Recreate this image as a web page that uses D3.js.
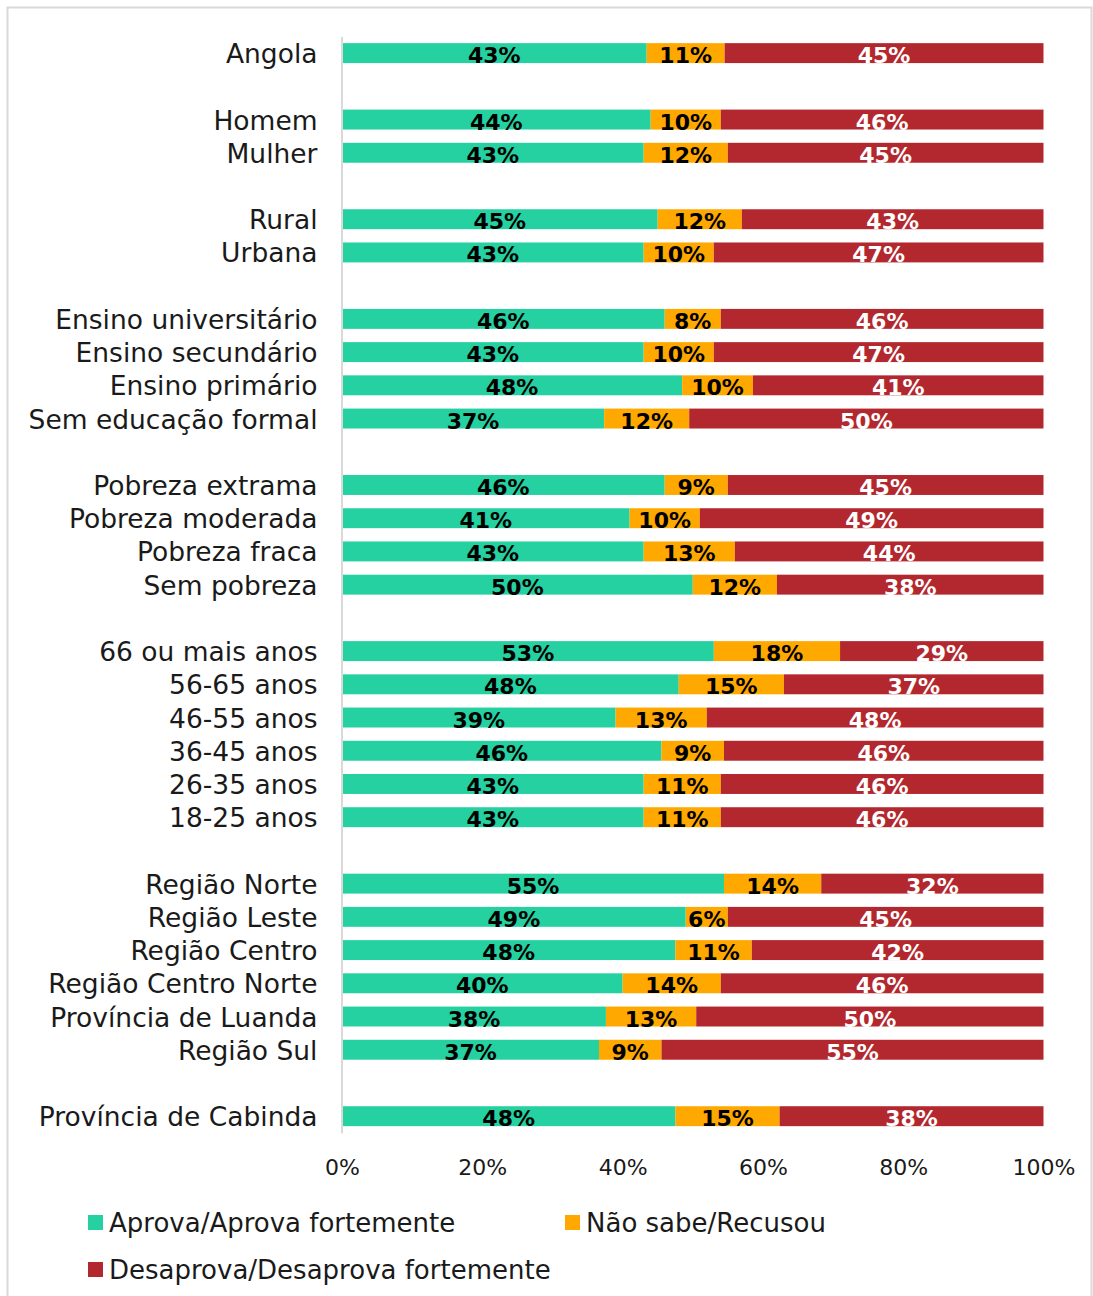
<!DOCTYPE html>
<html>
<head>
<meta charset="utf-8">
<script src="https://cdn.jsdelivr.net/npm/d3@7"></script>
<style>
  html, body { margin: 0; padding: 0; background: #fff; }
  svg { display: block; }
  text { font-family: "DejaVu Sans", sans-serif; }
</style>
</head>
<body>
<svg id="chart" width="1093" height="1296"></svg>
<script>
// Row labels; "" marks a blank spacer row between groups
const categories = [
  "Angola", "",
  "Homem", "Mulher", "",
  "Rural", "Urbana", "",
  "Ensino universitário", "Ensino secundário", "Ensino primário", "Sem educação formal", "",
  "Pobreza extrama", "Pobreza moderada", "Pobreza fraca", "Sem pobreza", "",
  "66 ou mais anos", "56-65 anos", "46-55 anos", "36-45 anos", "26-35 anos", "18-25 anos", "",
  "Região Norte", "Região Leste", "Região Centro", "Região Centro Norte", "Província de Luanda", "Região Sul", "",
  "Província de Cabinda"
];

// Percentages per row (null on spacer rows)
const aprova = [
  43, null,
  44, 43, null,
  45, 43, null,
  46, 43, 48, 37, null,
  46, 41, 43, 50, null,
  53, 48, 39, 46, 43, 43, null,
  55, 49, 48, 40, 38, 37, null,
  48
];
const naoSabe = [
  11, null,
  10, 12, null,
  12, 10, null,
  8, 10, 10, 12, null,
  9, 10, 13, 12, null,
  18, 15, 13, 9, 11, 11, null,
  14, 6, 11, 14, 13, 9, null,
  15
];
const desaprova = [
  45, null,
  46, 45, null,
  43, 47, null,
  46, 47, 41, 50, null,
  45, 49, 44, 38, null,
  29, 37, 48, 46, 46, 46, null,
  32, 45, 42, 46, 50, 55, null,
  38
];

const seriesNames = ["Aprova/Aprova fortemente", "Não sabe/Recusou", "Desaprova/Desaprova fortemente"];
const seriesKeys = ["aprova", "naoSabe", "desaprova"];
const xTicks = [0, 0.2, 0.4, 0.6, 0.8, 1];

const colors = { aprova: "#25d1a1", naoSabe: "#ffa900", desaprova: "#b3282e" };
const labelColors = { aprova: "#000", naoSabe: "#000", desaprova: "#fff" };

const svg = d3.select("#chart");

// outer frame
svg.append("rect")
  .attr("x", 7.5).attr("y", 7.5)
  .attr("width", 1084).attr("height", 1300)
  .attr("fill", "none").attr("stroke", "#d9d9d9").attr("stroke-width", 2);

const rows = categories.map((c, i) => ({
  idx: i, label: c,
  aprova: aprova[i], naoSabe: naoSabe[i], desaprova: desaprova[i]
}));
const dataRows = rows.filter(r => r.label !== "");

const x = d3.scaleLinear().domain([0, 1]).range([342, 1043.5]);
const y = d3.scaleBand()
  .domain(d3.range(categories.length))
  .range([36.5, 1132.8])
  .paddingInner(0.4)
  .paddingOuter(0.2);

// each bar is normalised to 100%
const stack = d3.stack().keys(seriesKeys).offset(d3.stackOffsetExpand);
const stacked = stack(dataRows);

const layers = svg.append("g").selectAll("g")
  .data(stacked)
  .join("g")
  .attr("fill", d => colors[d.key]);

layers.selectAll("rect")
  .data(d => d.map(p => ({ p, key: d.key })))
  .join("rect")
  .attr("x", d => x(d.p[0]))
  .attr("width", d => x(d.p[1]) - x(d.p[0]))
  .attr("y", d => y(d.p.data.idx))
  .attr("height", y.bandwidth());

// value labels
const labelG = svg.append("g");
stacked.forEach(layer => {
  labelG.selectAll(null)
    .data(layer)
    .join("text")
    .attr("x", p => (x(p[0]) + x(p[1])) / 2)
    .attr("y", p => y(p.data.idx) + y.bandwidth() / 2 + 10)
    .attr("text-anchor", "middle")
    .attr("font-size", 22)
    .attr("font-weight", "bold")
    .attr("fill", labelColors[layer.key])
    .text(p => p.data[layer.key] + "%");
});

// category axis
const yAxis = svg.append("g")
  .attr("transform", "translate(341.5,0)")
  .call(d3.axisLeft(y).tickSize(0).tickPadding(24).tickFormat(i => categories[i]));
yAxis.select(".domain").attr("stroke", "#d9d9d9").attr("stroke-width", 2);
yAxis.selectAll("text")
  .attr("font-size", 26.5)
  .attr("font-family", "DejaVu Sans, sans-serif")
  .attr("fill", "#1a1a1a")
  .attr("dy", null)
  .attr("y", 10);

// percentage axis
const xAxis = svg.append("g")
  .attr("transform", "translate(0,1133)")
  .call(d3.axisBottom(x).tickValues(xTicks).tickSize(0).tickFormat(d3.format(".0%")));
xAxis.select(".domain").remove();
xAxis.selectAll("text")
  .attr("font-size", 22)
  .attr("font-family", "DejaVu Sans, sans-serif")
  .attr("fill", "#1a1a1a")
  .attr("dy", null)
  .attr("y", 42);

// legend
const legendPos = [
  { x: 88, y: 1215 },
  { x: 565, y: 1215 },
  { x: 88, y: 1262 }
];
const legend = svg.append("g").selectAll("g")
  .data(seriesKeys)
  .join("g")
  .attr("transform", (k, i) => `translate(${legendPos[i].x},${legendPos[i].y})`);
legend.append("rect")
  .attr("width", 15).attr("height", 15)
  .attr("fill", k => colors[k]);
legend.append("text")
  .attr("x", 21).attr("y", 17)
  .attr("font-size", 26)
  .attr("fill", "#1a1a1a")
  .text((k, i) => seriesNames[i]);
</script>
</body>
</html>
